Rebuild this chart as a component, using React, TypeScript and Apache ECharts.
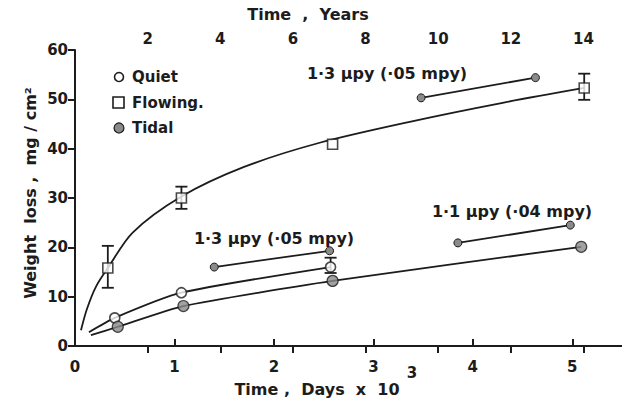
import React, { useEffect, useRef } from "react";
import * as echarts from "echarts";

// Time axis in thousands of days
const bottomTicks = ["0", "1", "2", "3", "4", "5"];
const yearTickLabels = ["2", "4", "6", "8", "10", "12", "14"];

// Measured points [days x10^3, mg/cm2]
const quietPoints = [
  [0.4, 5.7],
  [1.07, 10.8],
  [2.57, 16.0],
];
const flowingPoints = [
  [0.33, 15.8],
  [1.07, 30.0],
  [2.59, 40.9],
  [5.12, 52.3],
];
const tidalPoints = [
  [0.43, 3.9],
  [1.09, 8.1],
  [2.59, 13.2],
  [5.09, 20.1],
];

// Drawn fit lines
const quietLine = [[0.14, 2.8], ...quietPoints];
const tidalLine = [[0.16, 2.2], ...tidalPoints];
const flowingCurve = [
  [0.06, 3.2],
  [0.12, 7.5],
  [0.21, 12.0],
  [0.33, 15.8],
  [0.58, 23.0],
  [1.07, 30.3],
  [1.7, 36.3],
  [2.46, 41.2],
  [3.4, 45.6],
  [4.3, 49.3],
  [5.12, 52.3],
];

// Rate lines
const rateFlowing = [
  [3.48, 50.3],
  [4.63, 54.4],
];
const rateQuiet = [
  [1.4, 16.0],
  [2.56, 19.3],
];
const rateTidal = [
  [3.85, 20.9],
  [4.98, 24.5],
];

// Error bars [x, low, high]
const errorBars = [
  [0.33, 11.8, 20.3],
  [1.07, 27.8, 32.3],
  [5.12, 49.9, 55.2],
  [2.57, 14.8, 17.9],
];

const rateLabels = [
  { text: "1·3 µpy (·05 mpy)", x: 387, y: 73 },
  { text: "1·3 µpy (·05 mpy)", x: 274, y: 238 },
  { text: "1·1 µpy (·04 mpy)", x: 512, y: 211 },
];

const INK = "#1c1c1c";
const FILL = "#8a8a8a";
const FONT = "DejaVu Sans";

export default function App() {
  const ref = useRef<HTMLDivElement>(null);
  useEffect(() => {
    if (!ref.current) return;
    const chart = echarts.init(ref.current, undefined, { renderer: "svg" });
    const txt = { fontFamily: FONT, fontWeight: "bold", fontSize: 15, color: INK };
    const f = (s: number) => `bold ${s}px "${FONT}"`;
    const option: any = {
      animation: false,
      backgroundColor: "#ffffff",
      grid: { left: 75, top: 50, width: 548, height: 296 },
      xAxis: [
        {
          type: "value",
          position: "bottom",
          min: 0,
          max: 5.5,
          interval: 1,
          axisLine: { lineStyle: { color: INK, width: 2 } },
          axisTick: { inside: true, length: 7, lineStyle: { color: INK, width: 2 } },
          axisLabel: {
            ...txt,
            margin: 13,
            formatter: (v: number) => (Number.isInteger(v) ? bottomTicks[v] ?? "" : ""),
            showMaxLabel: false,
          },
          splitLine: { show: false },
        },
        {
          type: "value",
          position: "top",
          min: 0,
          max: 15.06,
          interval: 2,
          axisLine: { lineStyle: { color: INK, width: 2 } },
          axisTick: { inside: true, length: 7, lineStyle: { color: INK, width: 2 } },
          axisLabel: {
            ...txt,
            margin: 4,
            showMinLabel: false,
            showMaxLabel: false,
            formatter: (v: number) => {
              const i = v / 2 - 1;
              return i >= 0 && i < yearTickLabels.length ? yearTickLabels[i] : "";
            },
          },
          splitLine: { show: false },
        },
      ],
      yAxis: [
        {
          type: "value",
          position: "left",
          min: 0,
          max: 60,
          interval: 10,
          axisLine: { show: true, lineStyle: { color: INK, width: 2 } },
          axisTick: { show: true, length: 6, lineStyle: { color: INK, width: 2 } },
          axisLabel: { ...txt, margin: 7 },
          splitLine: { show: false },
        },
        {
          type: "value",
          position: "right",
          min: 0,
          max: 60,
          interval: 10,
          axisLine: { show: false },
          axisTick: { show: true, inside: true, length: 7, lineStyle: { color: INK, width: 2 } },
          axisLabel: { show: false },
          splitLine: { show: false },
        },
      ],
      series: [
        {
          name: "Flowing fit",
          type: "line",
          data: flowingCurve,
          smooth: 0.3,
          symbol: "none",
          lineStyle: { color: INK, width: 1.8 },
          z: 2,
        },
        {
          name: "Quiet line",
          type: "line",
          data: quietLine,
          smooth: 0.2,
          symbol: "none",
          lineStyle: { color: INK, width: 1.8 },
          z: 2,
        },
        {
          name: "Tidal line",
          type: "line",
          data: tidalLine,
          smooth: 0.2,
          symbol: "none",
          lineStyle: { color: INK, width: 1.8 },
          z: 2,
        },
        ...[rateFlowing, rateQuiet, rateTidal].map((d, i) => ({
          name: "rate" + i,
          type: "line",
          data: d,
          symbol: "circle",
          symbolSize: 8,
          itemStyle: { color: FILL, borderColor: INK, borderWidth: 1 },
          lineStyle: { color: INK, width: 1.8 },
          z: 3,
        })),
        {
          name: "Error",
          type: "custom",
          data: errorBars,
          encode: { x: 0, y: [1, 2] },
          renderItem: (params: any, api: any) => {
            const x = api.value(0);
            const lo = api.coord([x, api.value(1)]);
            const hi = api.coord([x, api.value(2)]);
            const w = 6;
            const st = { stroke: INK, lineWidth: 1.8 };
            return {
              type: "group",
              children: [
                { type: "line", shape: { x1: lo[0], y1: lo[1], x2: hi[0], y2: hi[1] }, style: st },
                { type: "line", shape: { x1: lo[0] - w, y1: lo[1], x2: lo[0] + w, y2: lo[1] }, style: st },
                { type: "line", shape: { x1: hi[0] - w, y1: hi[1], x2: hi[0] + w, y2: hi[1] }, style: st },
              ],
            };
          },
          z: 4,
        },
        {
          name: "Flowing",
          type: "scatter",
          data: flowingPoints,
          symbol: "rect",
          symbolSize: 10,
          itemStyle: { color: "#ffffff", borderColor: INK, borderWidth: 1.6 },
          z: 5,
        },
        {
          name: "Quiet",
          type: "scatter",
          data: quietPoints,
          symbol: "circle",
          symbolSize: 10,
          itemStyle: { color: "#ffffff", borderColor: INK, borderWidth: 1.6 },
          z: 5,
        },
        {
          name: "Tidal",
          type: "scatter",
          data: tidalPoints,
          symbol: "circle",
          symbolSize: 11,
          itemStyle: { color: FILL, borderColor: INK, borderWidth: 1.2 },
          z: 5,
        },
      ],
      graphic: [
        // legend
        { type: "circle", shape: { cx: 119, cy: 77, r: 4.5 }, style: { fill: "#fff", stroke: INK, lineWidth: 1.6 } },
        { type: "rect", shape: { x: 113, y: 97, width: 11, height: 11 }, style: { fill: "#fff", stroke: INK, lineWidth: 1.6 } },
        { type: "circle", shape: { cx: 119, cy: 128, r: 5 }, style: { fill: FILL, stroke: INK, lineWidth: 1.2 } },
        { type: "text", x: 132, y: 77, style: { text: "Quiet", fill: INK, font: f(15), textVerticalAlign: "middle" } },
        { type: "text", x: 132, y: 103, style: { text: "Flowing.", fill: INK, font: f(15), textVerticalAlign: "middle" } },
        { type: "text", x: 132, y: 128, style: { text: "Tidal", fill: INK, font: f(15), textVerticalAlign: "middle" } },
        // rate annotations
        ...rateLabels.map((r) => ({
          type: "text",
          x: r.x,
          y: r.y,
          style: { text: r.text, fill: INK, font: f(16), textAlign: "center", textVerticalAlign: "middle" },
        })),
        // axis titles
        { type: "text", x: 308, y: 14, style: { text: "Time  ,  Years", fill: INK, font: f(16), textAlign: "center", textVerticalAlign: "middle" } },
        { type: "text", x: 317, y: 389, style: { text: "Time ,  Days  x  10", fill: INK, font: f(16), textAlign: "center", textVerticalAlign: "middle" } },
        { type: "text", x: 412, y: 373, style: { text: "3", fill: INK, font: f(15), textAlign: "center", textVerticalAlign: "middle" } },
        {
          type: "text",
          x: 30,
          y: 193,
          rotation: Math.PI / 2,
          style: { text: "Weight  loss ,  mg / cm²", fill: INK, font: f(16), textAlign: "center", textVerticalAlign: "middle" },
        },
      ],
    };
    chart.setOption(option);
    return () => chart.dispose();
  }, []);
  return (
    <div
      ref={ref}
      style={{ position: "fixed", left: 0, top: 0, width: 622, height: 402, background: "#fff" }}
    />
  );
}
